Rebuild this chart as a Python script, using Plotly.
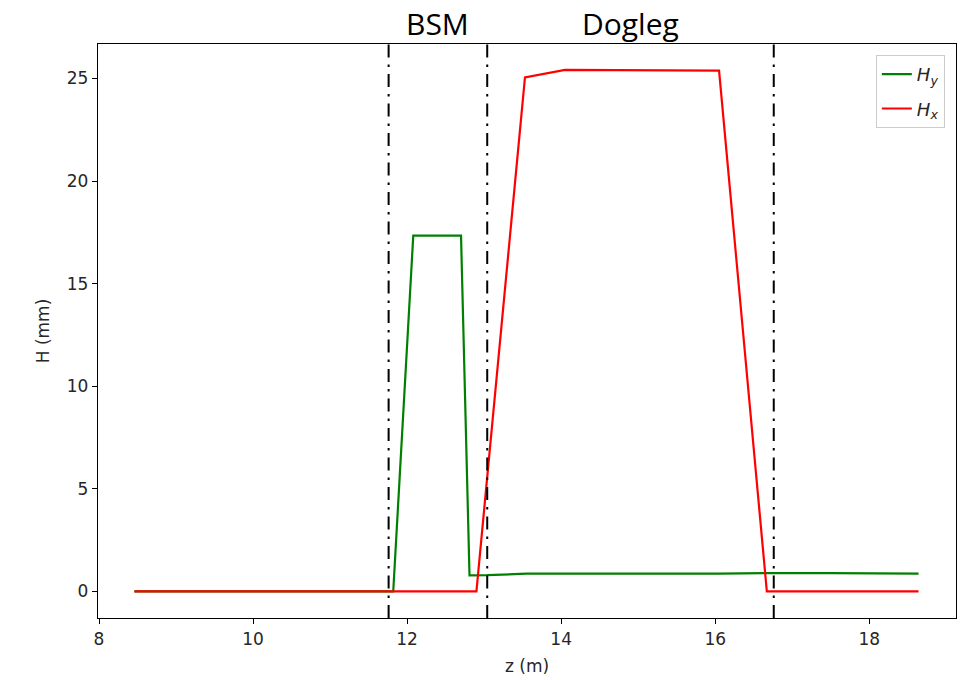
import plotly.graph_objects as go

# Beam-line position (m) and horizontal/vertical offsets H (mm)
z_hy = [8.46, 11.82, 12.08, 12.70, 12.81, 13.04, 13.55, 14.05, 15.00, 16.05, 16.67, 17.50, 18.00, 18.64]
h_y = [0.0, 0.0, 17.34, 17.34, 0.78, 0.79, 0.86, 0.87, 0.86, 0.86, 0.89, 0.89, 0.88, 0.86]

z_hx = [8.46, 12.90, 13.53, 14.05, 16.05, 16.67, 18.64]
h_x = [0.0, 0.0, 25.05, 25.42, 25.38, 0.0, 0.0]

# Section boundaries (m) and the section names shown above the axes
section_edges = [11.76, 13.04, 16.76]
section_names = ["BSM", "Dogleg"]

x_ticks = [8, 10, 12, 14, 16, 18]
y_ticks = [0, 5, 10, 15, 20, 25]

tick_font = dict(family="DejaVu Sans", size=17, color="#262626")

fig = go.Figure()
fig.add_trace(go.Scatter(
    x=z_hy, y=h_y, mode="lines", name="<i>H</i><sub><i>y</i></sub>",
    line=dict(color="#008000", width=2.2), legendgroup="hy",
))
fig.add_trace(go.Scatter(
    x=z_hx, y=h_x, mode="lines", name="<i>H</i><sub><i>x</i></sub>",
    line=dict(color="#ff0000", width=2.2), legendgroup="hx",
))

for z in section_edges:
    fig.add_shape(
        type="line", xref="x", yref="paper", x0=z, x1=z, y0=0, y1=1,
        line=dict(color="black", width=2, dash="13px,7px,2.5px,7px"),
        layer="above",
    )

for name, left, right in zip(section_names, section_edges[:-1], section_edges[1:]):
    fig.add_annotation(
        x=(left + right) / 2, xref="x", y=1.036, yref="paper",
        text=name, showarrow=False, xanchor="center", yanchor="middle",
        font=dict(family="Open Sans", size=30, color="black"),
    )

axis_common = dict(
    showline=True, linecolor="black", linewidth=1.3, mirror=True,
    ticks="outside", ticklen=5, tickwidth=1.2, tickcolor="black",
    showgrid=False, zeroline=False, tickfont=tick_font,
)

fig.update_xaxes(
    range=[7.987, 19.126], tickvals=x_ticks,
    title=dict(text="z (m)", font=tick_font, standoff=12),
    **axis_common,
)
fig.update_yaxes(
    range=[-1.30, 26.68], tickvals=y_ticks,
    title=dict(text="H (mm)", font=tick_font, standoff=12),
    **axis_common,
)

fig.update_layout(
    width=964, height=680,
    margin=dict(l=98, r=8, t=44, b=62, autoexpand=False),
    paper_bgcolor="white", plot_bgcolor="white",
    showlegend=True,
    legend=dict(
        x=0.987, y=0.981, xanchor="right", yanchor="top",
        bgcolor="white", bordercolor="#cccccc", borderwidth=1,
        font=dict(family="DejaVu Sans", size=18, color="#262626"),
        tracegroupgap=8, entrywidth=62,
    ),
)

fig.write_html("out.html")
